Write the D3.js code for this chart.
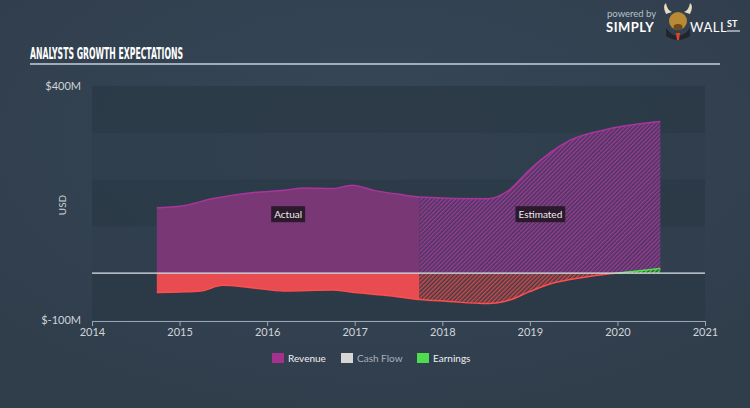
<!DOCTYPE html>
<html>
<head>
<meta charset="utf-8">
<script src="https://cdn.jsdelivr.net/npm/d3@7"></script>
<style>
  body { margin: 0; background: #344252; }
  svg { display: block; font-family: "Lato", "Open Sans", sans-serif; }
</style>
</head>
<body>
<div id="chart"></div>
<script>
// decimal years and values in $M
const revenueYears = [2014.74, 2015.0, 2015.4, 2015.82, 2016.19, 2016.43, 2016.75, 2016.97, 2017.22, 2017.49, 2017.74, 2018.52, 2018.76, 2018.99, 2019.46, 2019.92, 2020.49];
const revenueValues = [140, 143, 160, 172, 177, 182, 181, 188, 177, 169, 163, 159, 177, 220, 284, 309, 324];

const earningsYears = [2014.74, 2015.0, 2015.24, 2015.49, 2015.82, 2016.19, 2016.75, 2017.04, 2017.4, 2017.74, 2018.05, 2018.52, 2018.76, 2018.99, 2019.22, 2019.46, 2019.87, 2020.2, 2020.49];
const earningsValues = [-41, -40, -38, -26, -31, -38, -36, -42, -48, -56, -60, -65, -58, -40, -23.5, -13.5, -2, 4, 10];

const estimateStart = 2017.74;
const xTicks = [2014, 2015, 2016, 2017, 2018, 2019, 2020, 2021];
const yLabels = ["$400M", "$-100M"];
const legendItems = ["Revenue", "Cash Flow", "Earnings"];
const legendColors = ["#a5318f", "#d6d6d6", "#4fdc4f"];

const width = 750, height = 408;
const svg = d3.select("#chart").append("svg")
  .attr("width", width).attr("height", height);

const x = d3.scaleLinear().domain([2014, 2021]).range([92, 705]);
const y = d3.scaleLinear().domain([-100, 400]).range([320, 86]);

const defs = svg.append("defs");

const bg = defs.append("radialGradient").attr("id", "bg")
  .attr("cx", "50%").attr("cy", "35%").attr("r", "70%");
bg.append("stop").attr("offset", "0%").attr("stop-color", "#364758");
bg.append("stop").attr("offset", "100%").attr("stop-color", "#303d4b");
svg.append("rect").attr("width", width).attr("height", height).attr("fill", "url(#bg)");

function hatch(id, bgColor, lineColor) {
  const p = defs.append("pattern").attr("id", id)
    .attr("patternUnits", "userSpaceOnUse")
    .attr("width", 3).attr("height", 3)
    .attr("patternTransform", "rotate(45)");
  p.append("rect").attr("width", 3).attr("height", 3).attr("fill", bgColor);
  p.append("rect").attr("width", 1.5).attr("height", 3).attr("fill", lineColor);
}
hatch("hatchRev", "#403862", "#9d3a8c");
hatch("hatchNeg", "#3a3b4a", "#cf4a48");
hatch("hatchPos", "#34453f", "#4fd84f");

function clip(id, x0, y0, x1, y1) {
  defs.append("clipPath").attr("id", id).append("rect")
    .attr("x", x0).attr("y", y0).attr("width", x1 - x0).attr("height", y1 - y0);
}
clip("cActual", 0, 0, x(estimateStart), height);
clip("cEst", x(estimateStart), 0, width, height);
clip("cPos", 0, 0, width, y(0));
clip("cNeg", 0, y(0), width, height);

// background bands
const bands = [[300, 400, "#2c3947"], [200, 300, "#303e4d"], [100, 200, "#2c3947"], [0, 100, "#303e4d"], [-100, 0, "#2c3947"]];
svg.append("g").selectAll("rect").data(bands).enter().append("rect")
  .attr("x", x(2014)).attr("width", x(2021) - x(2014))
  .attr("y", d => y(d[1])).attr("height", d => y(d[0]) - y(d[1]))
  .attr("fill", d => d[2]).attr("opacity", 0.85);

const revenue = revenueYears.map((t, i) => [t, revenueValues[i]]);
const earnings = earningsYears.map((t, i) => [t, earningsValues[i]]);

const area = d3.area().curve(d3.curveMonotoneX)
  .x(d => x(d[0])).y0(y(0)).y1(d => y(d[1]));
const line = d3.line().curve(d3.curveMonotoneX)
  .x(d => x(d[0])).y(d => y(d[1]));

// revenue
svg.append("g").attr("clip-path", "url(#cActual)")
  .append("path").attr("d", area(revenue)).attr("fill", "#7a3775");
svg.append("g").attr("clip-path", "url(#cEst)")
  .append("path").attr("d", area(revenue)).attr("fill", "url(#hatchRev)");
svg.append("path").attr("d", line(revenue))
  .attr("fill", "none").attr("stroke", "#a8369a").attr("stroke-width", 1.5);

// earnings, negative part
const neg = svg.append("g").attr("clip-path", "url(#cNeg)");
neg.append("g").attr("clip-path", "url(#cActual)")
  .append("path").attr("d", area(earnings)).attr("fill", "#e84c50");
neg.append("g").attr("clip-path", "url(#cEst)")
  .append("path").attr("d", area(earnings)).attr("fill", "url(#hatchNeg)");
neg.append("path").attr("d", line(earnings))
  .attr("fill", "none").attr("stroke", "#ff4e4e").attr("stroke-width", 1.5);

// earnings, positive part
const pos = svg.append("g").attr("clip-path", "url(#cPos)");
pos.append("path").attr("d", area(earnings)).attr("fill", "url(#hatchPos)");
pos.append("path").attr("d", line(earnings))
  .attr("fill", "none").attr("stroke", "#4fe04f").attr("stroke-width", 1.5);

// zero line
svg.append("line")
  .attr("x1", x(2014)).attr("x2", x(2021))
  .attr("y1", y(0)).attr("y2", y(0))
  .attr("stroke", "#dfe3e8").attr("stroke-width", 1.2);

// labels Actual / Estimated
function tag(t, label) {
  const g = svg.append("g").attr("transform", "translate(" + t + "," + (y(0) - 59) + ")");
  const txt = g.append("text").text(label)
    .attr("text-anchor", "middle").attr("dy", "0.35em")
    .attr("fill", "#f0eef0").attr("font-size", 10);
  const w = txt.node().getComputedTextLength() + 6;
  g.insert("rect", "text").attr("x", -w / 2).attr("y", -8).attr("width", w).attr("height", 16)
    .attr("fill", "#2a1a2b");
}
tag(x(2016.24), "Actual");
tag(x(2019.12), "Estimated");

// x axis
const xAxis = d3.axisBottom(x).tickValues(xTicks).tickFormat(d3.format("d")).tickSize(5).tickSizeOuter(0);
const gx = svg.append("g").attr("transform", "translate(0,321)").call(xAxis);
gx.select(".domain").attr("stroke", "#9aa6b3");
gx.selectAll(".tick line").attr("stroke", "#9aa6b3");
gx.selectAll(".tick text").attr("fill", "#d0d5da").attr("font-size", 11)
  .attr("font-family", "Lato, sans-serif").attr("y", 7);

// y labels
svg.append("text").text(yLabels[0]).attr("x", 81).attr("y", 90)
  .attr("text-anchor", "end").attr("fill", "#cfd4d9").attr("font-size", 11);
svg.append("text").text(yLabels[1]).attr("x", 81).attr("y", 324)
  .attr("text-anchor", "end").attr("fill", "#cfd4d9").attr("font-size", 11);
svg.append("text").text("USD")
  .attr("transform", "translate(66,205) rotate(-90)")
  .attr("text-anchor", "middle").attr("fill", "#cfd4d9").attr("font-size", 10);

// title
svg.append("text").text("ANALYSTS GROWTH EXPECTATIONS")
  .attr("x", 30).attr("y", 58.5)
  .attr("font-family", "'Liberation Sans Narrow', 'DejaVu Sans Condensed', sans-serif")
  .attr("font-weight", "bold").attr("font-size", 16).attr("fill", "#ffffff")
  .attr("textLength", 153).attr("lengthAdjust", "spacingAndGlyphs");
svg.append("line").attr("x1", 30).attr("x2", 720).attr("y1", 64).attr("y2", 64)
  .attr("stroke", "#c9d0d8").attr("stroke-width", 1.5);

// legend
const lx = [272, 341, 417];
const lg = svg.append("g").selectAll("g").data(legendItems).enter().append("g")
  .attr("transform", (d, i) => "translate(" + lx[i] + ",353)");
lg.append("rect").attr("width", 12).attr("height", 10)
  .attr("fill", (d, i) => legendColors[i]);
lg.append("text").text(d => d).attr("x", 16).attr("y", 9)
  .attr("font-size", 10)
  .attr("fill", (d, i) => i === 1 ? "#a9b1ba" : "#eef0f2");

// logo
const logo = svg.append("g");
logo.append("text").text("powered by").attr("x", 607).attr("y", 17)
  .attr("font-size", 9.5).attr("fill", "#b9c0c8");
logo.append("text").text("SIMPLY").attr("x", 606).attr("y", 32)
  .attr("font-size", 13).attr("font-weight", "bold").attr("fill", "#ffffff")
  .attr("letter-spacing", 0.5);
logo.append("path").attr("d", "M666,28 Q678,44 690,28 L690,36 Q678,44 666,36 Z").attr("fill", "#22262c");
logo.append("path").attr("d", "M666,14 Q662,6 666,3 Q667,10 672,12 Z M690,14 Q694,6 690,3 Q689,10 684,12 Z").attr("fill", "#e6dcc0");
logo.append("ellipse").attr("cx", 678).attr("cy", 21).attr("rx", 9).attr("ry", 9).attr("fill", "#b98a33");
logo.append("ellipse").attr("cx", 678).attr("cy", 27).attr("rx", 4.5).attr("ry", 3).attr("fill", "#6b4a22");
logo.append("path").attr("d", "M676,33 L680,33 L679,40 L677,40 Z").attr("fill", "#e0452b");
logo.append("text").text("WALL").attr("x", 690).attr("y", 32)
  .attr("font-size", 13).attr("fill", "#ffffff").attr("letter-spacing", 0.5);
logo.append("text").text("ST").attr("x", 727).attr("y", 27)
  .attr("font-size", 9).attr("font-weight", "bold").attr("fill", "#ffffff");
logo.append("line").attr("x1", 727).attr("x2", 740).attr("y1", 31).attr("y2", 31)
  .attr("stroke", "#ffffff").attr("stroke-width", 1);
</script>
</body>
</html>
